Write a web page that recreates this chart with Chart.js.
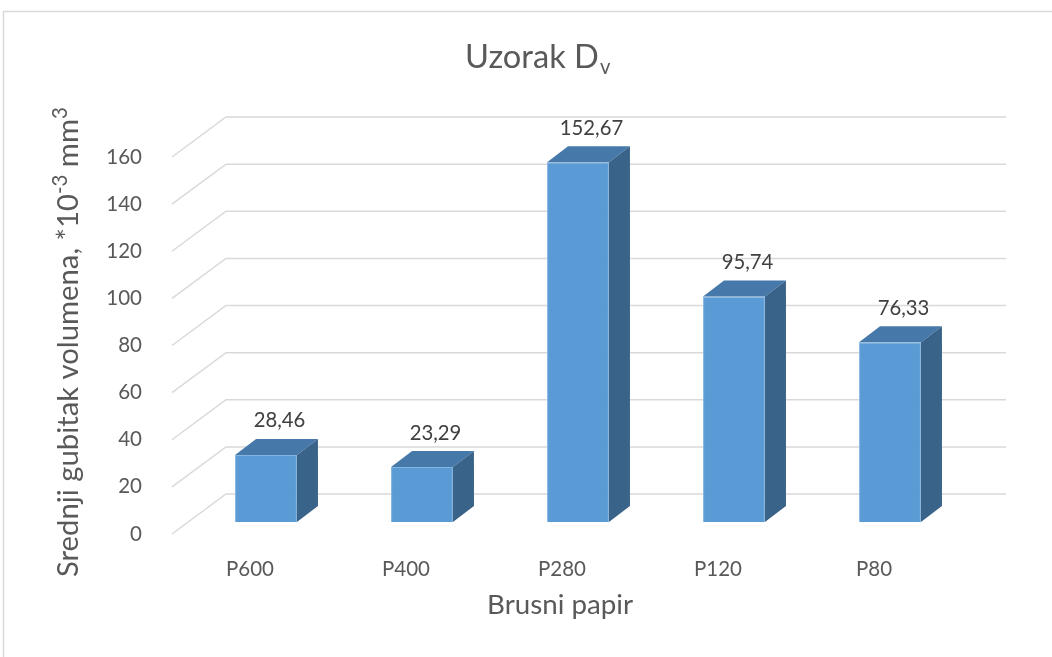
<!DOCTYPE html>
<html><head><meta charset="utf-8">
<script src="https://cdn.jsdelivr.net/npm/chart.js@4.4.1/dist/chart.umd.min.js"></script>
<style>html,body{margin:0;padding:0;background:#fff}#wrap{position:relative;width:1052px;height:657px}</style>
</head><body><div id="wrap"><canvas id="c"></canvas></div>
<script>
// ---- data ----
const categories = ['P600', 'P400', 'P280', 'P120', 'P80'];
const values = [28.46, 23.29, 152.67, 95.74, 76.33];
const yTicks = [0, 20, 40, 60, 80, 100, 120, 140, 160];
const chartTitle = 'Uzorak D';
const chartTitleSub = 'v';
const xTitle = 'Brusni papir';
const yTitleParts = [['Srednji gubitak volumena, *10', false], ['-3', true], [' mm', false], ['3', true]];

// ---- style ----
const FAMILY = 'Lato, "Open Sans", sans-serif';
const TEXT = '#595959';
const LABEL = '#404040';
const GRID = '#D9D9D9';
const FRONT = {dx: -16, dy: 12};
const BACK = {dx: 38, dy: -28};
const DEPTH = {dx: 21, dy: -16};
const SUP = 0.7;

const fmt = v => v.toFixed(2).replace('.', ',');

const mctx = document.createElement('canvas').getContext('2d');
function fit(text, target) {
  mctx.font = '100px ' + FAMILY;
  return 100 * target / mctx.measureText(text).width;
}
function fitParts(parts, target) {
  let w = 0;
  parts.forEach(([t, sup]) => {
    mctx.font = (sup ? 100 * SUP : 100) + 'px ' + FAMILY;
    w += mctx.measureText(t).width;
  });
  return 100 * target / w;
}
const tickSize = fit('P600', 48);
const labelSize = fit('28,46', 51.7);

const plugin3d = {
  id: 'plugin3d',
  beforeDraw(chart) {
    const c = chart.ctx;
    c.save();
    c.strokeStyle = GRID; c.lineWidth = 1.5;
    c.beginPath();
    c.moveTo(3.5, 657); c.lineTo(3.5, 11.5); c.lineTo(1052, 11.5);
    c.stroke();
    c.restore();
  },
  beforeDatasetsDraw(chart) {
    const c = chart.ctx, ys = chart.scales.y, a = chart.chartArea;
    c.save();
    c.strokeStyle = GRID; c.lineWidth = 1.5;
    ys.ticks.forEach(t => {
      const p = ys.getPixelForValue(t.value);
      c.beginPath();
      c.moveTo(a.left + FRONT.dx, p + FRONT.dy);
      c.lineTo(a.left + BACK.dx, p + BACK.dy);
      c.lineTo(a.right + BACK.dx, p + BACK.dy);
      c.stroke();
    });
    c.restore();
  },
  afterDatasetsDraw(chart) {
    const c = chart.ctx, meta = chart.getDatasetMeta(0);
    c.save();
    meta.data.forEach((bar, i) => {
      const L = bar.x - bar.width / 2, R = bar.x + bar.width / 2, T = bar.y, B = bar.base;
      c.fillStyle = '#4678AA';
      c.beginPath();
      c.moveTo(L, T); c.lineTo(R, T); c.lineTo(R + DEPTH.dx, T + DEPTH.dy); c.lineTo(L + DEPTH.dx, T + DEPTH.dy);
      c.closePath(); c.fill();
      c.fillStyle = '#3A638A';
      c.beginPath();
      c.moveTo(R, T); c.lineTo(R + DEPTH.dx, T + DEPTH.dy); c.lineTo(R + DEPTH.dx, B + DEPTH.dy); c.lineTo(R, B);
      c.closePath(); c.fill();
      c.fillStyle = LABEL;
      c.font = labelSize + 'px ' + FAMILY;
      c.textAlign = 'center'; c.textBaseline = 'middle';
      c.fillText(fmt(values[i]), bar.x + 13.5, T - 34);
    });
    c.restore();
  },
  afterDraw(chart) {
    const c = chart.ctx;
    c.save();
    c.fillStyle = TEXT;
    c.textBaseline = 'alphabetic';
    // title
    const ts = fit(chartTitle, 134);
    c.font = ts + 'px ' + FAMILY; c.textAlign = 'left';
    c.fillText(chartTitle, 465, 68);
    const tw = c.measureText(chartTitle).width;
    c.font = (ts * 0.62) + 'px ' + FAMILY;
    c.fillText(chartTitleSub, 465 + tw + 1, 73.5);
    // x title
    const xs = fit(xTitle, 146);
    c.font = xs + 'px ' + FAMILY; c.textAlign = 'center';
    c.fillText(xTitle, 560, 614);
    // y title
    const ysz = fitParts(yTitleParts, 470);
    c.translate(78, 577); c.rotate(-Math.PI / 2);
    c.textAlign = 'left';
    let x = 0;
    yTitleParts.forEach(([txt, sup]) => {
      const s = sup ? ysz * SUP : ysz;
      c.font = s + 'px ' + FAMILY;
      c.fillText(txt, x, sup ? -ysz * 0.36 : 0);
      x += c.measureText(txt).width;
    });
    c.restore();
  }
};

new Chart(document.getElementById('c'), {
  type: 'bar',
  data: {
    labels: categories,
    datasets: [{
      data: values,
      backgroundColor: '#5B9BD5',
      borderColor: '#86B4E0',
      borderWidth: 1,
      categoryPercentage: 1,
      barPercentage: 0.397
    }]
  },
  options: {
    responsive: true,
    maintainAspectRatio: false,
    animation: false,
    layout: {padding: {left: 0, right: 84, top: 145, bottom: 0}},
    plugins: {legend: {display: false}, tooltip: {enabled: false}, title: {display: false}},
    scales: {
      y: {
        min: 0, max: 160,
        afterBuildTicks: s => { s.ticks = yTicks.map(v => ({value: v})); },
        afterFit: s => { s.width = 188; },
        grid: {display: false},
        border: {display: false},
        ticks: {padding: 38, labelOffset: 12, color: TEXT, font: {family: FAMILY, size: tickSize}}
      },
      x: {
        afterFit: s => { s.height = 135; },
        grid: {display: false},
        border: {display: false},
        ticks: {padding: 27, labelOffset: -16, color: TEXT, font: {family: FAMILY, size: tickSize}}
      }
    }
  },
  plugins: [plugin3d]
});
</script>
</body></html>
